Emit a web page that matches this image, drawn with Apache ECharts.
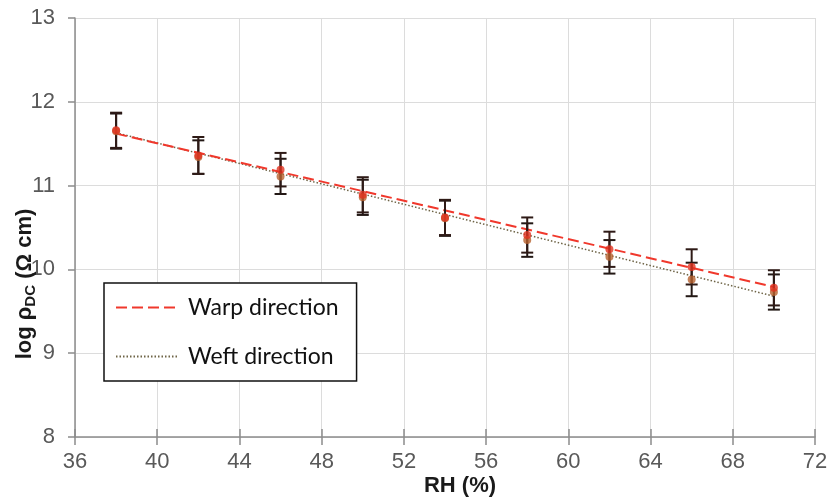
<!DOCTYPE html>
<html>
<head>
<meta charset="utf-8">
<script src="https://cdn.jsdelivr.net/npm/echarts@6/dist/echarts.min.js"></script>
<style>
  html, body { margin: 0; padding: 0; background: #fff; }
  #chart { width: 833px; height: 504px; }
</style>
</head>
<body>
<div id="chart"></div>
<script>
// Relative humidity (%) at which resistivity was measured
const rhValues = [38, 42, 46, 50, 54, 58, 62, 66, 70];

// log of DC volume resistivity (Ω cm), mean and half-width of error bar
const warpMean = [11.66, 11.36, 11.19, 10.89, 10.62, 10.41, 10.24, 10.03, 9.78];
const warpErr  = [0.21, 0.22, 0.20, 0.21, 0.21, 0.21, 0.21, 0.21, 0.21];
const weftMean = [11.65, 11.34, 11.11, 10.86, 10.61, 10.35, 10.15, 9.88, 9.73];
const weftErr  = [0.21, 0.20, 0.21, 0.21, 0.21, 0.20, 0.20, 0.20, 0.21];

// Linear trend lines (end points)
const warpTrend = [[38, 11.62], [70, 9.79]];
const weftTrend = [[38, 11.63], [70, 9.68]];

// Axis ranges / tick steps
const xRange = { min: 36, max: 72, step: 4 };
const yRange = { min: 8, max: 13, step: 1 };

const chart = echarts.init(document.getElementById('chart'), null, { renderer: 'canvas' });

function errorBars(name, means, errs, color) {
  return {
    type: 'custom',
    name: name,
    silent: true,
    z: 3,
    data: rhValues.map((x, i) => [x, means[i] - errs[i], means[i] + errs[i]]),
    encode: { x: 0, y: [1, 2] },
    renderItem: function (params, api) {
      const x = api.value(0);
      const lo = api.coord([x, api.value(1)]);
      const hi = api.coord([x, api.value(2)]);
      const hw = 6;
      const style = { stroke: color, lineWidth: 2 };
      return {
        type: 'group',
        children: [
          { type: 'line', shape: { x1: lo[0], y1: lo[1], x2: hi[0], y2: hi[1] }, style: style },
          { type: 'line', shape: { x1: lo[0] - hw, y1: lo[1], x2: lo[0] + hw, y2: lo[1] }, style: style },
          { type: 'line', shape: { x1: hi[0] - hw, y1: hi[1], x2: hi[0] + hw, y2: hi[1] }, style: style }
        ]
      };
    }
  };
}

const tickFont = { fontFamily: 'Liberation Sans, Arial, sans-serif', fontSize: 22, color: '#595959' };

chart.setOption({
  animation: false,
  backgroundColor: '#ffffff',
  grid: { left: 75, right: 18, top: 18, bottom: 67 },
  xAxis: [{
    type: 'value',
    min: xRange.min, max: xRange.max, interval: xRange.step,
    axisLine: { show: true, lineStyle: { color: '#8c8c8c', width: 1.5 } },
    axisTick: { show: true, length: 8, lineStyle: { color: '#8c8c8c', width: 1.5 } },
    axisLabel: Object.assign({ margin: 14 }, tickFont),
    splitLine: { show: true, lineStyle: { color: '#dcdcdc', width: 1 } }
  }, {
    type: 'value',
    position: 'bottom',
    min: xRange.min, max: xRange.max, interval: xRange.step,
    axisLine: { show: false },
    axisTick: { show: true, inside: true, length: 8, lineStyle: { color: '#8c8c8c', width: 1.5 } },
    axisLabel: { show: false },
    splitLine: { show: false }
  }],
  yAxis: {
    type: 'value',
    min: yRange.min, max: yRange.max, interval: yRange.step,
    axisLine: { show: true, lineStyle: { color: '#8c8c8c', width: 1.5 } },
    axisTick: { show: true, length: 7, lineStyle: { color: '#8c8c8c', width: 1.5 } },
    axisLabel: Object.assign({ margin: 20 }, tickFont),
    splitLine: { show: true, lineStyle: { color: '#dcdcdc', width: 1 } }
  },
  legend: {
    data: ['Warp direction', 'Weft direction'],
    orient: 'vertical',
    left: 104, top: 283,
    padding: [13, 18, 13, 11],
    itemWidth: 63, itemHeight: 20, itemGap: 26,
    borderColor: '#111', borderWidth: 1.5,
    backgroundColor: '#fff',
    itemStyle: { opacity: 0 },
    textStyle: { fontFamily: 'Lato, Carlito, sans-serif', fontSize: 23, color: '#111', padding: [0, 0, 0, 4] }
  },
  graphic: [
    {
      type: 'text', x: 460, y: 486, z: 10,
      style: {
        text: 'RH (%)', fill: '#1a1a1a',
        font: 'bold 22px "Liberation Sans", Arial, sans-serif',
        align: 'center', verticalAlign: 'middle'
      }
    },
    {
      type: 'text', x: 25, y: 284, rotation: Math.PI / 2, z: 10,
      style: {
        text: '{a|log ρ}{s|DC}{a| (Ω cm)}',
        align: 'center', verticalAlign: 'middle',
        rich: {
          a: { fill: '#1a1a1a', fontSize: 22, fontWeight: 'bold', fontFamily: 'Liberation Sans, Arial, sans-serif', lineHeight: 26, verticalAlign: 'middle' },
          s: { fill: '#1a1a1a', fontSize: 15, fontWeight: 'bold', fontFamily: 'Liberation Sans, Arial, sans-serif', lineHeight: 15, verticalAlign: 'bottom' }
        }
      }
    }
  ],
  series: [
    {
      name: 'Weft direction', type: 'line', data: weftTrend, symbol: 'none', z: 2,
      itemStyle: { color: '#6e6446' },
      lineStyle: { color: '#6e6446', width: 1.5, type: [1.5, 2] }
    },
    {
      name: 'Warp direction', type: 'line', data: warpTrend, symbol: 'none', z: 2,
      itemStyle: { color: '#f0382c' },
      lineStyle: { color: '#f0382c', width: 2, type: [11, 5] }
    },
    errorBars('weft error', weftMean, weftErr, '#231815'),
    errorBars('warp error', warpMean, warpErr, '#2e1a16'),
    {
      name: 'weft points', type: 'scatter', z: 4,
      data: rhValues.map((x, i) => [x, weftMean[i]]),
      symbol: 'circle', symbolSize: 8,
      itemStyle: { color: '#b8622e' }
    },
    {
      name: 'warp points', type: 'scatter', z: 5,
      data: rhValues.map((x, i) => [x, warpMean[i]]),
      symbol: 'circle', symbolSize: 8,
      itemStyle: { color: '#e2321f' }
    }
  ]
});
</script>
</body>
</html>
